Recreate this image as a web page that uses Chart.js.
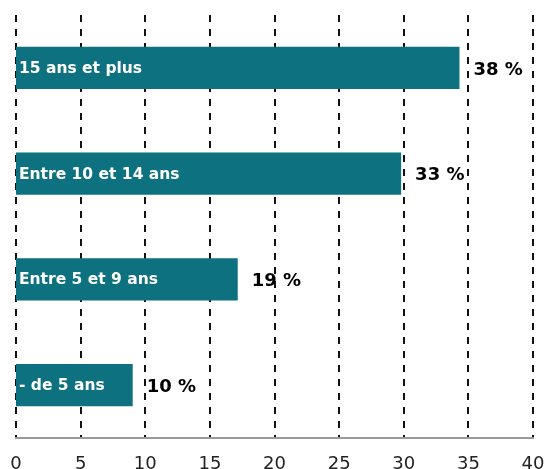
<!DOCTYPE html>
<html lang="fr">
<head>
<meta charset="utf-8">
<title>Ancienneté</title>
<script src="https://cdn.jsdelivr.net/npm/chart.js@4.4.1/dist/chart.umd.min.js"></script>
<style>
  html, body { margin: 0; padding: 0; background: #ffffff; }
  #wrap { width: 546px; height: 469px; }
</style>
</head>
<body>
<div id="wrap"><canvas id="chart" width="546" height="469"></canvas></div>
<script>
// Age groups, top to bottom
const categories = ['15 ans et plus', 'Entre 10 et 14 ans', 'Entre 5 et 9 ans', '- de 5 ans'];
// Share of each group, in percent
const shares = [38, 33, 19, 10];
// Labels of the graduated axis
const axisTicks = [0, 5, 10, 15, 20, 25, 30, 35, 40];

const barColor = '#0e717f';
const fontFamily = '"DejaVu Sans", Verdana, sans-serif';

// Writes the group name inside each bar and the percentage after it
const barLabels = {
  id: 'barLabels',
  afterDatasetsDraw(chart) {
    const { ctx, chartArea } = chart;
    const meta = chart.getDatasetMeta(0);
    ctx.save();
    ctx.textBaseline = 'middle';
    meta.data.forEach((bar, i) => {
      ctx.textAlign = 'left';
      ctx.fillStyle = '#ffffff';
      ctx.font = 'bold 15.5px ' + fontFamily;
      ctx.fillText(categories[i], chartArea.left + 3, bar.y + 1);
      ctx.fillStyle = '#000000';
      ctx.font = 'bold 18px ' + fontFamily;
      ctx.fillText(shares[i] + ' %', bar.x + 14, bar.y + 2);
    });
    ctx.restore();
  }
};

new Chart(document.getElementById('chart'), {
  type: 'bar',
  data: {
    labels: categories,
    datasets: [{
      data: shares,
      backgroundColor: barColor,
      borderWidth: 0,
      barPercentage: 0.8,
      categoryPercentage: 0.5,
      xAxisID: 'x'
    }]
  },
  options: {
    indexAxis: 'y',
    responsive: false,
    animation: false,
    devicePixelRatio: 1,
    layout: { padding: { top: 15, left: 16, right: 13, bottom: 0 } },
    plugins: {
      legend: { display: false },
      tooltip: { enabled: false }
    },
    scales: {
      y: { display: false },
      x: { display: false, min: 0, max: 44.3 },
      grad: {
        type: 'linear',
        position: 'bottom',
        axis: 'x',
        min: axisTicks[0],
        max: axisTicks[axisTicks.length - 1],
        afterBuildTicks(scale) { scale.ticks = axisTicks.map(v => ({ value: v })); },
        afterFit(scale) {
          scale.height = 31;
          scale.paddingLeft = 0;
          scale.paddingRight = 0;
        },
        grid: { color: '#111111', lineWidth: 2, drawTicks: false },
        border: { display: true, color: '#9a9a9a', width: 2, dash: [7, 7] },
        ticks: {
          padding: 16,
          color: '#222222',
          font: { family: fontFamily, size: 18 }
        }
      }
    }
  },
  plugins: [barLabels]
});
</script>
</body>
</html>
